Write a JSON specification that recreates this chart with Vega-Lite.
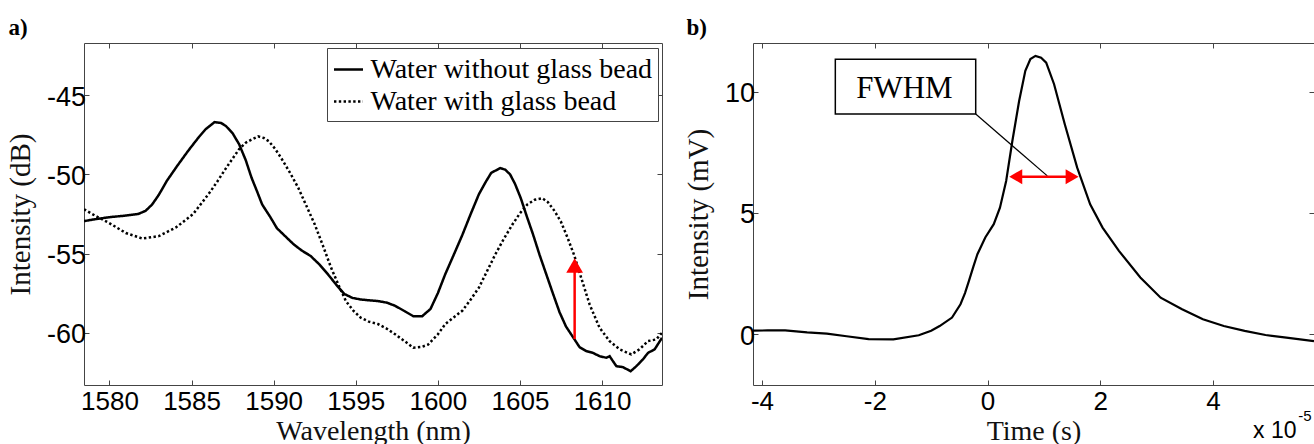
{
  "$schema": "https://vega.github.io/schema/vega-lite/v6.json",
  "padding": {"left": 5, "top": 16, "right": 0, "bottom": 0},
  "spacing": 20,
  "background": "#ffffff",
  "config": {
    "view": {"stroke": "#444444", "strokeWidth": 1},
    "axis": {
      "grid": false, "domain": false, "tickSize": -5, "tickColor": "#444444", "tickWidth": 1,
      "labelFont": "Liberation Sans", "labelFontSize": 26, "labelColor": "#000000",
      "titleFont": "Liberation Serif", "titleFontSize": 28, "titleFontWeight": "normal", "titleColor": "#111111"
    },
    "axisX": {"labelPadding": 8, "titlePadding": 3.5},
    "axisY": {"labelPadding": 3.5, "labelFontSize": 27, "labelOffset": 1.9, "titlePadding": 11, "titleFontSize": 29},
    "title": {"font": "Liberation Serif", "fontSize": 23, "fontWeight": "bold", "color": "#000000", "anchor": "start", "frame": "bounds", "baseline": "alphabetic", "offset": 2.5, "dx": 2}
  },
  "hconcat": [
    {
      "title": "a)",
      "width": 578,
      "height": 342,
      "resolve": {"axis": {"x": "independent", "y": "independent"}},
      "layer": [
        {
          "data": {"values": [
            {"series": "Water without glass bead", "wl": 1578.45, "db": -52.95},
            {"series": "Water without glass bead", "wl": 1579.0, "db": -52.85},
            {"series": "Water without glass bead", "wl": 1580.0, "db": -52.7},
            {"series": "Water without glass bead", "wl": 1581.0, "db": -52.6},
            {"series": "Water without glass bead", "wl": 1581.75, "db": -52.5},
            {"series": "Water without glass bead", "wl": 1582.2, "db": -52.3},
            {"series": "Water without glass bead", "wl": 1582.6, "db": -51.9},
            {"series": "Water without glass bead", "wl": 1583.0, "db": -51.3},
            {"series": "Water without glass bead", "wl": 1583.5, "db": -50.4},
            {"series": "Water without glass bead", "wl": 1584.1, "db": -49.5},
            {"series": "Water without glass bead", "wl": 1584.8, "db": -48.5},
            {"series": "Water without glass bead", "wl": 1585.4, "db": -47.7},
            {"series": "Water without glass bead", "wl": 1585.85, "db": -47.15},
            {"series": "Water without glass bead", "wl": 1586.4, "db": -46.7},
            {"series": "Water without glass bead", "wl": 1586.8, "db": -46.75},
            {"series": "Water without glass bead", "wl": 1587.1, "db": -46.95},
            {"series": "Water without glass bead", "wl": 1587.5, "db": -47.4},
            {"series": "Water without glass bead", "wl": 1587.9, "db": -48.1},
            {"series": "Water without glass bead", "wl": 1588.3, "db": -49.1},
            {"series": "Water without glass bead", "wl": 1588.65, "db": -50.2},
            {"series": "Water without glass bead", "wl": 1589.0, "db": -51.1},
            {"series": "Water without glass bead", "wl": 1589.3, "db": -51.9},
            {"series": "Water without glass bead", "wl": 1589.8, "db": -52.7},
            {"series": "Water without glass bead", "wl": 1590.2, "db": -53.4},
            {"series": "Water without glass bead", "wl": 1590.7, "db": -53.9},
            {"series": "Water without glass bead", "wl": 1591.2, "db": -54.4},
            {"series": "Water without glass bead", "wl": 1591.7, "db": -54.8},
            {"series": "Water without glass bead", "wl": 1592.25, "db": -55.15},
            {"series": "Water without glass bead", "wl": 1592.8, "db": -55.7},
            {"series": "Water without glass bead", "wl": 1593.3, "db": -56.3},
            {"series": "Water without glass bead", "wl": 1593.8, "db": -56.95},
            {"series": "Water without glass bead", "wl": 1594.3, "db": -57.55},
            {"series": "Water without glass bead", "wl": 1594.8, "db": -57.8},
            {"series": "Water without glass bead", "wl": 1595.3, "db": -57.9},
            {"series": "Water without glass bead", "wl": 1595.8, "db": -57.95},
            {"series": "Water without glass bead", "wl": 1596.35, "db": -58.0},
            {"series": "Water without glass bead", "wl": 1596.9, "db": -58.1},
            {"series": "Water without glass bead", "wl": 1597.4, "db": -58.3},
            {"series": "Water without glass bead", "wl": 1598.0, "db": -58.65},
            {"series": "Water without glass bead", "wl": 1598.5, "db": -58.95},
            {"series": "Water without glass bead", "wl": 1599.05, "db": -58.95},
            {"series": "Water without glass bead", "wl": 1599.55, "db": -58.5},
            {"series": "Water without glass bead", "wl": 1600.0, "db": -57.5},
            {"series": "Water without glass bead", "wl": 1600.45, "db": -56.3},
            {"series": "Water without glass bead", "wl": 1601.0, "db": -55.0},
            {"series": "Water without glass bead", "wl": 1601.5, "db": -53.8},
            {"series": "Water without glass bead", "wl": 1602.0, "db": -52.5},
            {"series": "Water without glass bead", "wl": 1602.5, "db": -51.25},
            {"series": "Water without glass bead", "wl": 1602.9, "db": -50.5},
            {"series": "Water without glass bead", "wl": 1603.25, "db": -49.9},
            {"series": "Water without glass bead", "wl": 1603.8, "db": -49.6},
            {"series": "Water without glass bead", "wl": 1604.1, "db": -49.7},
            {"series": "Water without glass bead", "wl": 1604.4, "db": -50.0},
            {"series": "Water without glass bead", "wl": 1604.7, "db": -50.6},
            {"series": "Water without glass bead", "wl": 1605.05, "db": -51.5},
            {"series": "Water without glass bead", "wl": 1605.4, "db": -52.6},
            {"series": "Water without glass bead", "wl": 1605.8, "db": -53.8},
            {"series": "Water without glass bead", "wl": 1606.2, "db": -55.1},
            {"series": "Water without glass bead", "wl": 1606.6, "db": -56.3},
            {"series": "Water without glass bead", "wl": 1607.0, "db": -57.5},
            {"series": "Water without glass bead", "wl": 1607.41, "db": -58.7},
            {"series": "Water without glass bead", "wl": 1607.8, "db": -59.6},
            {"series": "Water without glass bead", "wl": 1608.32, "db": -60.42},
            {"series": "Water without glass bead", "wl": 1608.63, "db": -60.91},
            {"series": "Water without glass bead", "wl": 1609.04, "db": -61.16},
            {"series": "Water without glass bead", "wl": 1609.44, "db": -61.27},
            {"series": "Water without glass bead", "wl": 1609.85, "db": -61.48},
            {"series": "Water without glass bead", "wl": 1610.26, "db": -61.58},
            {"series": "Water without glass bead", "wl": 1610.46, "db": -61.48},
            {"series": "Water without glass bead", "wl": 1610.66, "db": -61.79},
            {"series": "Water without glass bead", "wl": 1610.87, "db": -62.11},
            {"series": "Water without glass bead", "wl": 1611.27, "db": -62.17},
            {"series": "Water without glass bead", "wl": 1611.74, "db": -62.43},
            {"series": "Water without glass bead", "wl": 1612.09, "db": -62.11},
            {"series": "Water without glass bead", "wl": 1612.49, "db": -61.68},
            {"series": "Water without glass bead", "wl": 1612.8, "db": -61.27},
            {"series": "Water without glass bead", "wl": 1613.2, "db": -61.05},
            {"series": "Water without glass bead", "wl": 1613.65, "db": -60.32},
            {"series": "Water with glass bead", "wl": 1578.45, "db": -52.2},
            {"series": "Water with glass bead", "wl": 1579.2, "db": -52.65},
            {"series": "Water with glass bead", "wl": 1579.95, "db": -53.05},
            {"series": "Water with glass bead", "wl": 1581.0, "db": -53.7},
            {"series": "Water with glass bead", "wl": 1582.0, "db": -54.05},
            {"series": "Water with glass bead", "wl": 1583.0, "db": -53.9},
            {"series": "Water with glass bead", "wl": 1584.05, "db": -53.35},
            {"series": "Water with glass bead", "wl": 1585.1, "db": -52.5},
            {"series": "Water with glass bead", "wl": 1586.1, "db": -51.15},
            {"series": "Water with glass bead", "wl": 1586.6, "db": -50.4},
            {"series": "Water with glass bead", "wl": 1587.1, "db": -49.6},
            {"series": "Water with glass bead", "wl": 1587.5, "db": -49.0},
            {"series": "Water with glass bead", "wl": 1587.9, "db": -48.4},
            {"series": "Water with glass bead", "wl": 1588.3, "db": -48.0},
            {"series": "Water with glass bead", "wl": 1588.65, "db": -47.8},
            {"series": "Water with glass bead", "wl": 1589.05, "db": -47.6},
            {"series": "Water with glass bead", "wl": 1589.4, "db": -47.7},
            {"series": "Water with glass bead", "wl": 1589.7, "db": -47.9},
            {"series": "Water with glass bead", "wl": 1590.1, "db": -48.4},
            {"series": "Water with glass bead", "wl": 1590.45, "db": -48.95},
            {"series": "Water with glass bead", "wl": 1591.0, "db": -49.9},
            {"series": "Water with glass bead", "wl": 1591.5, "db": -50.85},
            {"series": "Water with glass bead", "wl": 1592.0, "db": -52.0},
            {"series": "Water with glass bead", "wl": 1592.5, "db": -53.15},
            {"series": "Water with glass bead", "wl": 1593.0, "db": -54.5},
            {"series": "Water with glass bead", "wl": 1593.5, "db": -55.9},
            {"series": "Water with glass bead", "wl": 1594.0, "db": -57.1},
            {"series": "Water with glass bead", "wl": 1594.4, "db": -58.0},
            {"series": "Water with glass bead", "wl": 1594.85, "db": -58.6},
            {"series": "Water with glass bead", "wl": 1595.3, "db": -59.05},
            {"series": "Water with glass bead", "wl": 1595.8, "db": -59.3},
            {"series": "Water with glass bead", "wl": 1596.35, "db": -59.45},
            {"series": "Water with glass bead", "wl": 1596.9, "db": -59.75},
            {"series": "Water with glass bead", "wl": 1597.4, "db": -60.1},
            {"series": "Water with glass bead", "wl": 1598.0, "db": -60.55},
            {"series": "Water with glass bead", "wl": 1598.5, "db": -60.95},
            {"series": "Water with glass bead", "wl": 1599.0, "db": -60.9},
            {"series": "Water with glass bead", "wl": 1599.4, "db": -60.75},
            {"series": "Water with glass bead", "wl": 1600.0, "db": -60.1},
            {"series": "Water with glass bead", "wl": 1600.45, "db": -59.45},
            {"series": "Water with glass bead", "wl": 1601.0, "db": -59.0},
            {"series": "Water with glass bead", "wl": 1601.5, "db": -58.6},
            {"series": "Water with glass bead", "wl": 1602.0, "db": -57.9},
            {"series": "Water with glass bead", "wl": 1602.5, "db": -57.15},
            {"series": "Water with glass bead", "wl": 1603.0, "db": -56.1},
            {"series": "Water with glass bead", "wl": 1603.5, "db": -55.05},
            {"series": "Water with glass bead", "wl": 1604.0, "db": -54.1},
            {"series": "Water with glass bead", "wl": 1604.55, "db": -53.15},
            {"series": "Water with glass bead", "wl": 1605.0, "db": -52.45},
            {"series": "Water with glass bead", "wl": 1605.45, "db": -51.9},
            {"series": "Water with glass bead", "wl": 1605.9, "db": -51.6},
            {"series": "Water with glass bead", "wl": 1606.35, "db": -51.5},
            {"series": "Water with glass bead", "wl": 1606.7, "db": -51.75},
            {"series": "Water with glass bead", "wl": 1607.1, "db": -52.3},
            {"series": "Water with glass bead", "wl": 1607.5, "db": -53.0},
            {"series": "Water with glass bead", "wl": 1607.9, "db": -54.0},
            {"series": "Water with glass bead", "wl": 1608.3, "db": -55.1},
            {"series": "Water with glass bead", "wl": 1608.63, "db": -56.2},
            {"series": "Water with glass bead", "wl": 1609.24, "db": -58.21},
            {"series": "Water with glass bead", "wl": 1609.85, "db": -59.69},
            {"series": "Water with glass bead", "wl": 1610.46, "db": -60.53},
            {"series": "Water with glass bead", "wl": 1611.07, "db": -61.05},
            {"series": "Water with glass bead", "wl": 1611.78, "db": -61.37},
            {"series": "Water with glass bead", "wl": 1612.28, "db": -61.05},
            {"series": "Water with glass bead", "wl": 1612.79, "db": -60.53},
            {"series": "Water with glass bead", "wl": 1613.3, "db": -60.42},
            {"series": "Water with glass bead", "wl": 1613.65, "db": -60.0}
          ]},
          "mark": {"type": "line", "color": "#000000", "strokeWidth": 2.5, "clip": true},
          "encoding": {
            "x": {"field": "wl", "type": "quantitative",
              "scale": {"domain": [1578.45, 1613.65], "nice": false, "zero": false},
              "axis": {"orient": "bottom", "title": "Wavelength (nm)", "values": [1580, 1585, 1590, 1595, 1600, 1605, 1610], "labelExpr": "'' + datum.value"}},
            "y": {"field": "db", "type": "quantitative",
              "scale": {"domain": [-63.3, -41.7], "nice": false, "zero": false},
              "axis": {"orient": "left", "title": "Intensity (dB)", "values": [-60, -55, -50, -45], "labelExpr": "'' + datum.value"}},
            "strokeDash": {"field": "series", "type": "nominal",
              "scale": {"domain": ["Water without glass bead", "Water with glass bead"], "range": [[1, 0], [2.4, 2.4]]},
              "legend": {"orient": "none", "legendX": 243, "legendY": 5, "title": null,
                "symbolType": "stroke", "symbolSize": 841, "symbolStrokeWidth": 2.5, "symbolStrokeColor": "#000000",
                "labelFont": "Liberation Serif", "labelFontSize": 28, "labelColor": "#000000", "labelLimit": 500,
                "labelOffset": 6, "rowPadding": 2, "padding": 5.5, "strokeColor": "#444444", "fillColor": "#ffffff"}}
          }
        },
        {
          "data": {"values": [{"wl": 1608.33, "db1": -60.4, "db2": -56.0}]},
          "mark": {"type": "rule", "color": "#ff0000", "strokeWidth": 2.5},
          "encoding": {
            "x": {"field": "wl", "type": "quantitative", "axis": {"orient": "top", "labels": false, "title": null, "values": [1580, 1585, 1590, 1595, 1600, 1605, 1610]}},
            "y": {"field": "db1", "type": "quantitative", "axis": {"orient": "right", "labels": false, "title": null, "values": [-60, -55, -50, -45]}},
            "y2": {"field": "db2"}
          }
        },
        {
          "data": {"values": [{"wl": 1608.33, "db": -55.76}]},
          "mark": {"type": "point", "shape": "triangle-up", "filled": true, "color": "#ff0000", "size": 280, "opacity": 1},
          "encoding": {
            "x": {"field": "wl", "type": "quantitative", "axis": null},
            "y": {"field": "db", "type": "quantitative", "axis": null}
          }
        }
      ]
    },
    {
      "title": "b)",
      "width": 561,
      "height": 342,
      "resolve": {"axis": {"x": "independent", "y": "independent"}},
      "layer": [
        {
          "data": {"values": [
            {"t": -4.16, "mv": 0.15}, {"t": -3.9, "mv": 0.16}, {"t": -3.59, "mv": 0.16}, {"t": -3.2, "mv": 0.08},
            {"t": -2.85, "mv": 0.03}, {"t": -2.5, "mv": -0.08}, {"t": -2.11, "mv": -0.2}, {"t": -1.67, "mv": -0.21},
            {"t": -1.22, "mv": -0.04}, {"t": -1.0, "mv": 0.15}, {"t": -0.85, "mv": 0.34}, {"t": -0.63, "mv": 0.69},
            {"t": -0.48, "mv": 1.24}, {"t": -0.4, "mv": 1.7}, {"t": -0.33, "mv": 2.2}, {"t": -0.25, "mv": 2.8},
            {"t": -0.18, "mv": 3.3}, {"t": -0.04, "mv": 3.99}, {"t": 0.11, "mv": 4.54}, {"t": 0.22, "mv": 5.22},
            {"t": 0.33, "mv": 6.32}, {"t": 0.44, "mv": 7.97}, {"t": 0.56, "mv": 9.62}, {"t": 0.67, "mv": 10.86},
            {"t": 0.76, "mv": 11.35}, {"t": 0.85, "mv": 11.48}, {"t": 0.95, "mv": 11.4}, {"t": 1.04, "mv": 11.2},
            {"t": 1.18, "mv": 10.31}, {"t": 1.37, "mv": 8.66}, {"t": 1.59, "mv": 6.87}, {"t": 1.82, "mv": 5.36},
            {"t": 2.04, "mv": 4.4}, {"t": 2.33, "mv": 3.44}, {"t": 2.71, "mv": 2.34}, {"t": 3.07, "mv": 1.51},
            {"t": 3.45, "mv": 1.03}, {"t": 3.82, "mv": 0.62}, {"t": 4.19, "mv": 0.34}, {"t": 4.56, "mv": 0.14},
            {"t": 4.93, "mv": -0.03}, {"t": 5.3, "mv": -0.14}, {"t": 5.79, "mv": -0.28}
          ]},
          "mark": {"type": "line", "color": "#000000", "strokeWidth": 2.2, "clip": true},
          "encoding": {
            "x": {"field": "t", "type": "quantitative",
              "scale": {"domain": [-4.16, 5.79], "nice": false, "zero": false},
              "axis": {"orient": "bottom", "title": "Time (s)", "values": [-4, -2, 0, 2, 4], "labelExpr": "'' + datum.value"}},
            "y": {"field": "mv", "type": "quantitative",
              "scale": {"domain": [-2.09, 12.01], "nice": false, "zero": false},
              "axis": {"orient": "left", "title": "Intensity (mV)", "values": [0, 5, 10], "labelExpr": "'' + datum.value"}}
          }
        },
        {
          "data": {"values": [{"t1": -0.21, "mv1": 9.08, "t2": 1.06, "mv2": 6.53}]},
          "mark": {"type": "rule", "color": "#000000", "strokeWidth": 1.2},
          "encoding": {
            "x": {"field": "t1", "type": "quantitative", "axis": {"orient": "top", "labels": false, "title": null, "values": [-4, -2, 0, 2, 4]}},
            "y": {"field": "mv1", "type": "quantitative", "axis": {"orient": "right", "labels": false, "title": null, "values": [0, 5, 10]}},
            "x2": {"field": "t2"},
            "y2": {"field": "mv2"}
          }
        },
        {
          "data": {"values": [{"t1": -2.7, "t2": -0.21, "mv1": 11.34, "mv2": 9.08}]},
          "mark": {"type": "rect", "fill": "#ffffff", "stroke": "#000000", "strokeWidth": 1.5},
          "encoding": {
            "x": {"field": "t1", "type": "quantitative", "axis": null},
            "x2": {"field": "t2"},
            "y": {"field": "mv1", "type": "quantitative", "axis": null},
            "y2": {"field": "mv2"}
          }
        },
        {
          "data": {"values": [{"t": -1.474, "mv": 9.74, "label": "FWHM"}]},
          "mark": {"type": "text", "font": "Liberation Serif", "fontSize": 31, "color": "#000000", "align": "center", "baseline": "alphabetic"},
          "encoding": {
            "x": {"field": "t", "type": "quantitative", "axis": null},
            "y": {"field": "mv", "type": "quantitative", "axis": null},
            "text": {"field": "label"}
          }
        },
        {
          "data": {"values": [{"t1": 0.5, "t2": 1.5, "mv": 6.5}]},
          "mark": {"type": "rule", "color": "#ff0000", "strokeWidth": 2.5},
          "encoding": {
            "x": {"field": "t1", "type": "quantitative", "axis": null},
            "x2": {"field": "t2"},
            "y": {"field": "mv", "type": "quantitative", "axis": null}
          }
        },
        {
          "data": {"values": [{"t": 0.5, "mv": 6.5}]},
          "mark": {"type": "point", "shape": "triangle-left", "filled": true, "color": "#ff0000", "size": 225, "opacity": 1},
          "encoding": {
            "x": {"field": "t", "type": "quantitative", "axis": null},
            "y": {"field": "mv", "type": "quantitative", "axis": null}
          }
        },
        {
          "data": {"values": [{"t": 1.5, "mv": 6.5}]},
          "mark": {"type": "point", "shape": "triangle-right", "filled": true, "color": "#ff0000", "size": 225, "opacity": 1},
          "encoding": {
            "x": {"field": "t", "type": "quantitative", "axis": null},
            "y": {"field": "mv", "type": "quantitative", "axis": null}
          }
        },
        {
          "data": {"values": [{"t": 4.71, "mv": -4.27, "label": "x 10"}]},
          "mark": {"type": "text", "font": "Liberation Sans", "fontSize": 23, "color": "#000000", "align": "left", "baseline": "alphabetic"},
          "encoding": {
            "x": {"field": "t", "type": "quantitative", "axis": null},
            "y": {"field": "mv", "type": "quantitative", "axis": null},
            "text": {"field": "label"}
          }
        },
        {
          "data": {"values": [{"t": 5.51, "mv": -3.58, "label": "-5"}]},
          "mark": {"type": "text", "font": "Liberation Sans", "fontSize": 15, "color": "#000000", "align": "left", "baseline": "alphabetic"},
          "encoding": {
            "x": {"field": "t", "type": "quantitative", "axis": null},
            "y": {"field": "mv", "type": "quantitative", "axis": null},
            "text": {"field": "label"}
          }
        }
      ]
    }
  ]
}
